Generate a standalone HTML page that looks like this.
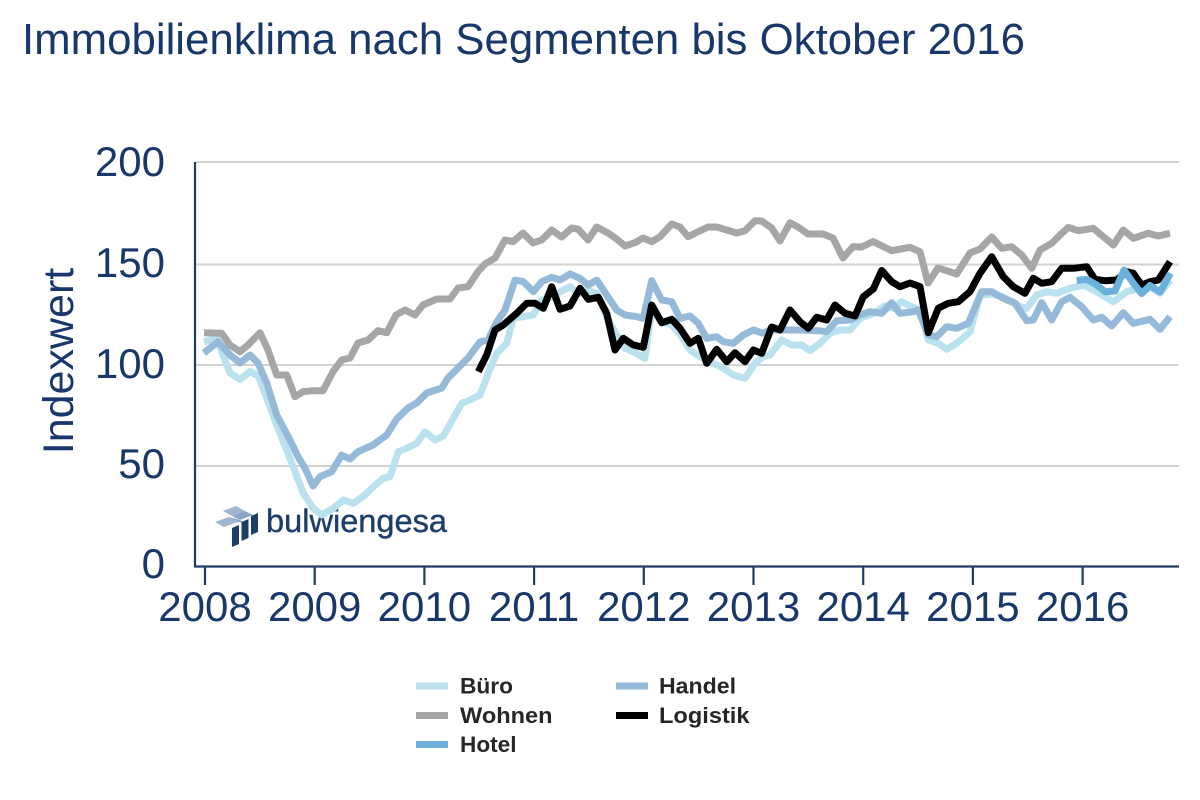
<!DOCTYPE html>
<html>
<head>
<meta charset="utf-8">
<style>
html,body{margin:0;padding:0;background:#fff;}
svg{display:block;}
</style>
</head>
<body>
<svg width="1200" height="800" viewBox="0 0 1200 800" xmlns="http://www.w3.org/2000/svg">
<rect width="1200" height="800" fill="#fff"/>
<!-- Title -->
<text x="22" y="54" font-family="Liberation Sans, Arial, sans-serif" font-size="44" fill="#18376a" textLength="1003" lengthAdjust="spacingAndGlyphs">Immobilienklima nach Segmenten bis Oktober 2016</text>

<!-- Gridlines -->
<g stroke="#d3d3d3" stroke-width="2">
<line x1="196" y1="162" x2="1179" y2="162"/>
<line x1="196" y1="264.5" x2="1179" y2="264.5"/>
<line x1="196" y1="365" x2="1179" y2="365"/>
<line x1="196" y1="466" x2="1179" y2="466"/>
</g>

<!-- Axes -->
<g stroke="#1f3b66" stroke-width="2.2" fill="none">
<line x1="195" y1="162" x2="195" y2="567"/>
<line x1="194" y1="566.5" x2="1179" y2="566.5"/>
<line x1="205" y1="566" x2="205" y2="585"/>
<line x1="314.7" y1="566" x2="314.7" y2="585"/>
<line x1="424.4" y1="566" x2="424.4" y2="585"/>
<line x1="534.1" y1="566" x2="534.1" y2="585"/>
<line x1="643.8" y1="566" x2="643.8" y2="585"/>
<line x1="753.5" y1="566" x2="753.5" y2="585"/>
<line x1="863.2" y1="566" x2="863.2" y2="585"/>
<line x1="972.9" y1="566" x2="972.9" y2="585"/>
<line x1="1082.6" y1="566" x2="1082.6" y2="585"/>
</g>

<!-- Y tick labels -->
<g font-family="Liberation Sans, Arial, sans-serif" font-size="42" fill="#18376a" text-anchor="end">
<text x="165" y="176">200</text>
<text x="165" y="277">150</text>
<text x="165" y="378">100</text>
<text x="165" y="478">50</text>
<text x="165" y="578">0</text>
</g>

<!-- X tick labels -->
<g font-family="Liberation Sans, Arial, sans-serif" font-size="42" fill="#18376a" text-anchor="middle">
<text x="205" y="621">2008</text>
<text x="314.7" y="621">2009</text>
<text x="424.4" y="621">2010</text>
<text x="534.1" y="621">2011</text>
<text x="643.8" y="621">2012</text>
<text x="753.5" y="621">2013</text>
<text x="863.2" y="621">2014</text>
<text x="972.9" y="621">2015</text>
<text x="1082.6" y="621">2016</text>
</g>

<!-- Y axis title -->
<text transform="translate(73,361) rotate(-90)" font-family="Liberation Sans, Arial, sans-serif" font-size="43" fill="#18376a" text-anchor="middle">Indexwert</text>

<!-- Logo -->
<g>
<polygon points="223,511 236,506 245,511 232,516" fill="#9fb5d0"/>
<polygon points="232,516 245,511 253,515 240,520" fill="#8aa6c6"/>
<polygon points="215,522 229,517 238,522 224,527" fill="#9fb5d0"/>
<polygon points="229,517 240,520 245,523 238,522" fill="#8aa6c6"/>
<polygon points="232,528 239,525 239,544 232,547" fill="#1b3f6b"/>
<polygon points="241.5,522 248.5,519 248.5,538 241.5,541" fill="#1b3f6b"/>
<polygon points="251,516 258,513 258,532 251,535" fill="#1b3f6b"/>
</g>
<text x="266" y="532" font-family="Liberation Sans, Arial, sans-serif" font-size="32" fill="#1d3e6a" stroke="#1d3e6a" stroke-width="0.4" textLength="181" lengthAdjust="spacingAndGlyphs">bulwiengesa</text>

<!-- Series -->
<g fill="none" stroke-width="7" stroke-linejoin="round" stroke-linecap="butt">
<!-- Büro -->
<polyline stroke="#b9e2ee" points="204,341.7 216.7,338.3 230,373 240,379.5 250,371.5 258.3,376 266.7,398 276.7,425 286.7,450 295,471.7 303.3,493.3 313.3,508.3 321.7,515 333.3,508.3 343.3,500 353.3,503.3 365,495 373.3,486.7 383.3,478.3 390,476.7 398.3,451.7 410,446.7 416.7,443.3 425,431.7 435,440 443.3,436 453.3,418.3 461.7,403.3 470,400 480,395 488.3,373.3 496.7,353.3 506.7,343.3 513.3,318.3 523.3,316.7 533.3,315 541.7,300 553.3,296.7 560,291.7 570,286.7 578.3,293.3 586.7,290 596.7,293.3 606.7,316.7 616.7,335 625,348.3 633.3,351.7 645,358.3 651.7,310 661.7,321.7 671.7,325 681.7,336.7 690,350 700,356.7 710,361.7 723.3,368.3 733.3,375 745,378.3 755,363.3 763.3,356.7 770,355 781.7,340 791.7,345 801.7,345 810,350.7 820,343.3 830,333.3 840,330 850,330 860,318.3 873.3,313.3 885,306 893.3,308.3 901.7,301.7 911.7,306.7 920,310 928.3,340 938.3,343.3 946.7,349.3 956.7,343.3 970,332 980,295 991.7,294 1003,297 1013,302 1020,306.7 1026.7,308.3 1036.7,295 1046.7,291.7 1056.7,293.3 1070,288.3 1083.3,285 1096.7,291.7 1113.3,301.7 1126.7,291.7 1140,288.3 1151.7,288.3 1160,293.3 1170,280"/>
<!-- Handel -->
<polyline stroke="#94b9d9" points="204,353 218,341.7 230,355 240,363 250,355 258,363 266.7,383 276.7,415 290,440 298,456.7 305,468 313,486 320,476.7 331.7,471.7 341.7,455 350,459 358,451.7 373,445 386.7,435 396.7,419 408,408 416.7,403 426.7,393 441.7,388 448,378 458,368 468,358 480,342 488,340 496.7,322 505,310 515,280 523.3,281.7 533.3,291.7 541.7,281.7 551.7,277.3 560,280 570,274 580,278.3 588.3,285 596.7,280 606.7,295 616.7,310 625,315 636.7,316.7 643.3,318.3 651.7,280.7 661.7,300 671.7,301.7 680,318.3 690,316 698.3,323.3 706.7,338.3 716.7,336.7 723.3,341.7 733.3,343.3 743.3,335 753.3,330 763.3,333.3 770,330 780,330 800,330 818.3,330.7 826.7,331.7 836.7,320.7 850,320 860,315 870,311.7 881.7,313.3 891.7,302.7 900,313.3 913.3,311.7 918.3,310 928.3,335 936.7,336.7 946.7,326.7 956.7,328.3 968.3,323.3 981.7,291.7 991.7,291.7 1003.3,298.3 1015,303.3 1026.7,320.7 1033.3,320 1041.7,302.7 1051.7,320 1061.7,301.7 1070,297.3 1081.7,306.7 1093.3,320 1101.7,317.3 1111.7,326 1123.3,312.7 1133.3,323.3 1150,319.3 1160,329.3 1170,316.7"/>
<!-- Wohnen -->
<polyline stroke="#a6a6a6" points="204,332.7 221.7,333.3 230,345 240,351.7 248,345 260,332.7 268,350 276.7,375 286.7,375 295,396.7 303,391.7 313,390.7 323,390.7 333,371.7 341.7,360 350,358 358,343 368,340 378,330.7 386.7,332.7 396,315 405,310 415,315 423,305 436.7,299 450,299 458,288 468,286.7 478,271.7 485,264 495,258 505,240 513,241.7 523,233 533,243 541.7,240 551.7,230 561.7,237 571.7,228 578,229 588,240 596.7,227 608,233 616.7,239 625,246 635,242.7 643,238 651.7,241.7 660,236.7 671.7,224 680,227 688,236.7 698,231.7 708,227 716.7,227 726.7,230 736.7,233 745,230.7 755,220.7 761.7,221 771.7,228 780,241 790,222.7 798,227 808,234 823,234 833,238 843,258 853,246.7 861.7,247 873,241.5 891.7,250.7 910,247.3 920,251.7 928,283 938,268 946.7,270.7 956.7,274 970,253 980,249 991.7,237 1001.7,248.3 1011.7,246.7 1021.7,255 1031.7,268.3 1040,250 1051.7,243.3 1060,235 1068.3,227.3 1078.3,230.7 1093.3,228.3 1103.3,236.7 1113.3,245 1123.3,230 1133.3,238.3 1148.3,233.3 1158.3,236 1170,233.3"/>
<!-- Logistik -->
<polyline stroke="#000000" points="478.3,371.7 486.7,355 495,330 503.3,325 516.7,313.3 526.7,303.3 535,303.3 543.3,308.3 551.7,286.7 560,309.3 570,306 580,288.3 588.3,299.3 598.3,297.3 606.7,313.3 615,350 623.3,338.3 633.3,345 643.3,347.3 651.7,305 661.7,322.7 671.7,319.3 680,328.3 690,343.3 698.3,338.3 706.7,363.3 716.7,349.3 726.7,361.7 735,352.7 745,361.7 753.3,350 761.7,353.3 771.7,327 780,330 790,310 800,321.7 808.3,328.3 816.7,317.3 826.7,320 835,305 845,313.3 855,316 863.3,296.7 873.3,289 881.7,270.5 891.7,281.7 900,286.7 910,283 920,286.7 928.3,332.7 938.3,308.3 948.3,303.3 958.3,301.7 970,291.7 980,273.3 991.7,256.7 1003.3,276.7 1013.3,286.7 1025,293.3 1033.3,278.3 1041.7,283.3 1051.7,281.7 1061.7,268.3 1073.3,268.3 1086.7,266.7 1095,279.3 1105,280.7 1116.7,280 1126.7,271.7 1133.3,273.3 1141.7,285 1150,281.7 1158.3,280 1170,261.7"/>
<!-- Hotel -->
<polyline stroke="#6cb0dc" points="1076.7,280.5 1086.7,279.3 1096.7,285 1105,291.7 1115,291 1124,270 1133.3,283.3 1141.7,293.5 1150,285.5 1160,292 1170.5,273.3"/>
</g>

<!-- Legend -->
<g stroke-width="7">
<line x1="416" y1="686" x2="448" y2="686" stroke="#b9e2ee"/>
<line x1="416" y1="715.5" x2="448" y2="715.5" stroke="#a6a6a6"/>
<line x1="416" y1="744.5" x2="448" y2="744.5" stroke="#6cb0dc"/>
<line x1="616" y1="686" x2="648" y2="686" stroke="#94b9d9"/>
<line x1="616" y1="715.5" x2="648" y2="715.5" stroke="#000000"/>
</g>
<g font-family="Liberation Sans, Arial, sans-serif" font-size="22" font-weight="bold" fill="#262626">
<text x="460" y="693.5" textLength="53" lengthAdjust="spacingAndGlyphs">Büro</text>
<text x="460" y="723" textLength="92.5" lengthAdjust="spacingAndGlyphs">Wohnen</text>
<text x="460" y="752" textLength="56.5" lengthAdjust="spacingAndGlyphs">Hotel</text>
<text x="659" y="693.5" textLength="77" lengthAdjust="spacingAndGlyphs">Handel</text>
<text x="659" y="723" textLength="90.5" lengthAdjust="spacingAndGlyphs">Logistik</text>
</g>
</svg>
</body>
</html>
